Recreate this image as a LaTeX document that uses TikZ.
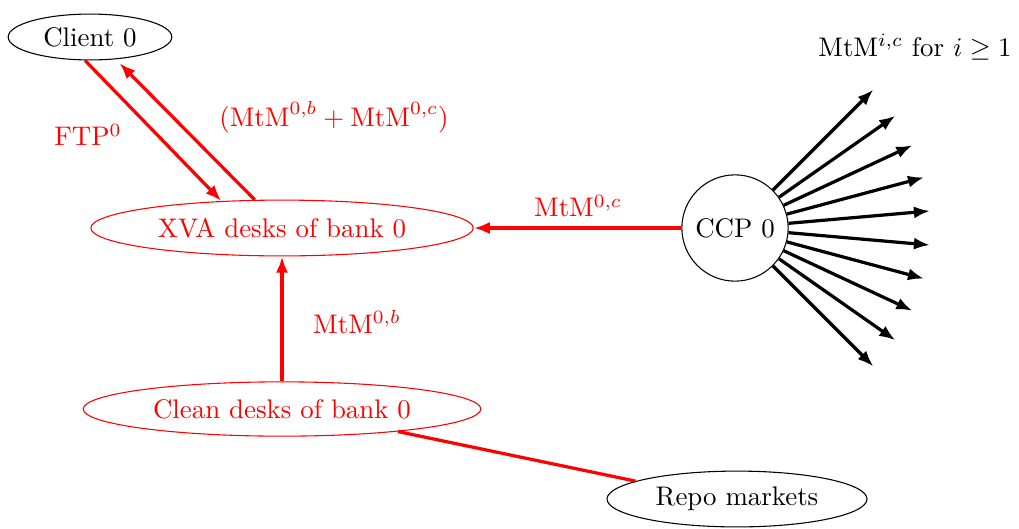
\documentclass[tikz,border=0pt]{standalone}
\usepackage{amssymb}
\usetikzlibrary{shapes.geometric,arrows.meta,calc}
\definecolor{pred}{RGB}{255,0,0}
\tikzset{
  blackell/.style={ellipse,draw=black,thin,text=black,inner sep=2pt},
  redell/.style={ellipse,draw=pred,thin,text=pred,inner sep=2pt},
  redarrow/.style={draw=pred,line width=1.2pt,-{Latex[length=6pt,width=4.5pt]}},
  redline/.style={draw=pred,line width=1.2pt},
  blackarrow/.style={draw=black,line width=1.2pt,-{Latex[length=6pt,width=4.5pt]}},
  redlabel/.style={text=pred,inner sep=0pt},
  blacklabel/.style={text=black,inner sep=0pt}
}
\begin{document}
\begin{tikzpicture}[x=0.013072cm,y=-0.013072cm]
\useasboundingbox (0,0) rectangle (1019,528);
\node[blackell,minimum width=2.14cm,minimum height=0.60cm] (client) at (90,37) {Client 0};
\node[redell,minimum width=5.0cm,minimum height=0.73cm] (xva) at (282,228) {XVA desks of bank 0};
\node[redell,minimum width=5.2cm,minimum height=0.71cm] (clean) at (282,409) {Clean desks of bank 0};
\node[blackell,minimum width=3.4cm,minimum height=0.73cm] (repo) at (737,499) {Repo markets};
\node[circle,draw=black,thin,minimum size=1.39cm,inner sep=1pt] (ccp) at (735,228) {CCP 0};

\node[blacklabel] (mtmi) at (915,47) {MtM$^{i,c}$ for $i\geq 1$};
\node[redlabel] (ftp) at (88,135) {FTP$^0$};
\node[redlabel] (sum) at (334,117) {$(\mathrm{MtM}^{0,b}+\mathrm{MtM}^{0,c})$};
\node[redlabel] (mtmc) at (578,206) {MtM$^{0,c}$};
\node[redlabel] (mtmb) at (357,322) {MtM$^{0,b}$};

\draw[redarrow] (client.258) -- (xva.156);
\draw[redarrow,shorten >=2pt] (xva.134) -- (client.319);
\draw[redarrow] (ccp.west) -- (xva.east);
\draw[redarrow] (clean.north) -- (xva.south);
\draw[redline] (clean.349) -- (repo.170);

\foreach \a in {45,35,25,15,5,-5,-15,-25,-35,-45}{
  \coordinate (end\a) at ($(ccp.center)+(\a:2.56cm)$);
  \draw[blackarrow] (ccp.\a) -- (end\a);
}
\end{tikzpicture}
\end{document}
